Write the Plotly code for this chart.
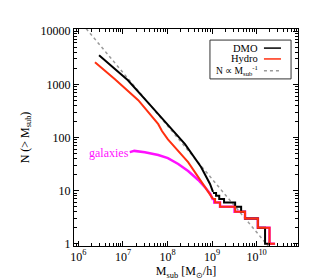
import plotly.graph_objects as go

# ---- data ----
dmo_mass = [2.9e6, 5.96e6, 1.29e7, 3.65e7, 1.03e8, 2.47e8, 5.66e8, 7.3e8, 9.0e8, 1.05e9]
dmo_n = [3520, 2094, 1194, 452, 171, 75, 27.9, 18, 13.4, 9.5]
dmo_step_mass = [1.05e9, 1.23e9, 1.45e9, 1.86e9, 3.3e9, 4.5e9, 5.5e9, 1.07e10, 1.55e10, 1.95e10]
dmo_step_n = [9, 8, 7, 6, 5, 4, 3, 2, 1, 1]

hydro_mass = [2.35e6, 6.6e6, 2.2e7, 6.2e7, 7.5e7, 1.02e8, 2.9e8, 4.9e8, 6.9e8, 9.1e8, 1.05e9]
hydro_n = [2600, 1250, 504, 178, 132, 92, 34.5, 18, 11.7, 8.3, 7.0]
hydro_step_mass = [1.05e9, 1.17e9, 1.51e9, 3.3e9, 5.5e9, 1.07e10, 1.95e10, 2.6e10]
hydro_step_n = [7, 6, 5, 4, 3, 2, 1, 1]

gal_mass = [1.42e7, 1.8e7, 3.1e7, 6.2e7, 1.02e8, 1.74e8, 2.9e8, 4.9e8, 6.9e8, 9.1e8, 1.05e9]
gal_n = [53, 56, 53, 47, 41, 31.7, 23.4, 15.9, 11.7, 8.7, 6.7]
gal_step_mass = [1.05e9, 1.12e9, 1.51e9, 3.2e9, 5.5e9, 1.07e10, 1.95e10, 2.6e10]
gal_step_n = [6.7, 6, 5, 4, 3, 2, 1, 1]

powerlaw_mass = [1e6, 3e10]
powerlaw_n = [16600, 0.553]

x_tick_vals = [1e6, 1e7, 1e8, 1e9, 1e10]
x_tick_text = ["10<sup>6</sup>", "10<sup>7</sup>", "10<sup>8</sup>", "10<sup>9</sup>", "10<sup>10</sup>"]
y_tick_vals = [1, 10, 100, 1000, 10000]
y_tick_text = ["1", "10", "100", "1000", "10000"]

BLACK = "#000000"
RED = "#ff3010"
MAGENTA = "#ff10ff"
GRAY = "#9a9a9a"
FONT = "Liberation Serif"

fig = go.Figure()
fig.add_trace(go.Scatter(x=powerlaw_mass, y=powerlaw_n, mode="lines",
                         line=dict(color=GRAY, width=1.5, dash="3px,3px")))
fig.add_trace(go.Scatter(x=gal_mass, y=gal_n, mode="lines", line=dict(color=MAGENTA, width=2.5)))
fig.add_trace(go.Scatter(x=gal_step_mass, y=gal_step_n, mode="lines",
                         line=dict(color=MAGENTA, width=2.5, shape="hv")))
fig.add_trace(go.Scatter(x=dmo_mass, y=dmo_n, mode="lines", line=dict(color=BLACK, width=2)))
fig.add_trace(go.Scatter(x=dmo_step_mass, y=dmo_step_n, mode="lines",
                         line=dict(color=BLACK, width=2, shape="hv")))
fig.add_trace(go.Scatter(x=hydro_mass, y=hydro_n, mode="lines", line=dict(color=RED, width=2)))
fig.add_trace(go.Scatter(x=hydro_step_mass, y=hydro_step_n, mode="lines",
                         line=dict(color=RED, width=2, shape="hv")))

x_minor = [k * 10 ** d for d in range(5, 11) for k in range(2, 10)]
y_minor = [k * 10 ** d for d in range(-1, 5) for k in range(2, 10)]

axis_common = dict(type="log", showgrid=False, zeroline=False, showline=True,
                   linecolor="black", linewidth=1.2, mirror="ticks", ticks="inside",
                   ticklen=5, tickwidth=1, tickcolor="black",
                   tickfont=dict(family=FONT, size=12, color="black"))

fig.update_xaxes(range=[5.9, 10.93], tickvals=x_tick_vals, ticktext=x_tick_text,
                 ticklabelstandoff=-1,
                 minor=dict(tickvals=x_minor, ticks="inside", ticklen=2.5, tickcolor="black", tickwidth=1),
                 title=dict(text="M<sub>sub</sub> [M<sub>⊙</sub>/h]", font=dict(family=FONT, size=12, color="black"), standoff=4),
                 **axis_common)
fig.update_yaxes(range=[-0.04, 4.04], tickvals=y_tick_vals, ticktext=y_tick_text,
                 minor=dict(tickvals=y_minor, ticks="inside", ticklen=2.5, tickcolor="black", tickwidth=1),
                 title=dict(text="N (> M<sub>sub</sub>)", font=dict(family=FONT, size=12, color="black"), standoff=8),
                 **axis_common)

# legend drawn in paper coordinates (text right, line sample on the right)
shapes = [dict(type="rect", xref="paper", yref="paper", x0=0.607, x1=0.969, y0=0.770, y1=0.949,
               line=dict(color="#333333", width=1), fillcolor="white", layer="above")]
legend_rows = [("DMO", BLACK, "solid", 0.912, 10.5), ("Hydro", RED, "solid", 0.862, 10.5),
               ("N ∝ M<sub>sub</sub><sup>-1</sup>", GRAY, "3px,3px", 0.808, 9.5)]
annotations = []
for text, color, dash, yy, fs in legend_rows:
    shapes.append(dict(type="line", xref="paper", yref="paper", x0=0.848, x1=0.924, y0=yy, y1=yy,
                       line=dict(color=color, width=1.5, dash=dash), layer="above"))
    annotations.append(dict(text=text, xref="paper", yref="paper", x=0.826, y=yy, xanchor="right",
                            yanchor="middle", showarrow=False, borderpad=0,
                            font=dict(family=FONT, size=fs, color="black")))

annotations.append(dict(text="galaxies", x=7.17, y=1.71, xref="x", yref="y", xanchor="right",
                        yanchor="middle", showarrow=False,
                        font=dict(family=FONT, size=12, color=MAGENTA)))

fig.update_layout(width=310, height=280, margin=dict(l=66, r=20, t=21, b=42),
                  paper_bgcolor="white", plot_bgcolor="white", showlegend=False,
                  shapes=shapes, annotations=annotations,
                  font=dict(family=FONT, size=12, color="black"))

fig.write_html("out.html")
